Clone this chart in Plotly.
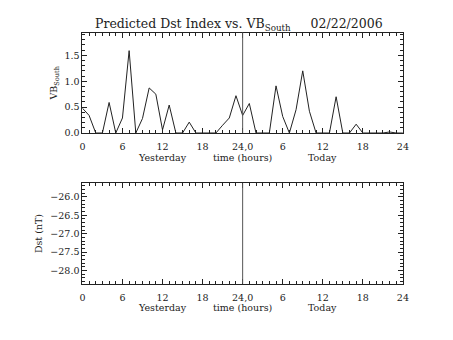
import plotly.graph_objects as go

# Hours since start of yesterday (0..48)
hours = list(range(49))
vb_south = [0.48, 0.34, 0.0, 0.0, 0.59, 0.0, 0.29, 1.59, 0.0, 0.28,
            0.87, 0.75, 0.06, 0.54, 0.0, 0.0, 0.21, 0.0, 0.0, 0.0,
            0.0, 0.15, 0.29, 0.72, 0.34, 0.57, 0.0, 0.0, 0.0, 0.91,
            0.32, 0.0, 0.45, 1.20, 0.42, 0.0, 0.0, 0.0, 0.70, 0.0,
            0.0, 0.17, 0.0, 0.0, 0.0, 0.0, 0.02, 0.0, 0.0]
dst_hours = []
dst_values = []

x_tickvals = [0, 6, 12, 18, 24, 30, 36, 42, 48]
x_ticktext = ["0", "6", "12", "18", "24,0", "6", "12", "18", "24"]
vb_tickvals = [0.0, 0.5, 1.0, 1.5]
dst_tickvals = [-26.0, -26.5, -27.0, -27.5, -28.0]
day_labels = [(12, "Yesterday"), (24, "time (hours)"), (36, "Today")]

W, H = 453, 340
FONT = "DejaVu Serif"
AX = "#222222"
TXT = dict(family=FONT, size=9.5, color="#222")

def px_x(a, b):
    return [a / W, b / W]

def px_y(top, bottom):
    return [(H - bottom) / H, (H - top) / H]

fig = go.Figure()
fig.add_trace(go.Scatter(x=hours, y=vb_south, mode="lines",
                         line=dict(color="#222222", width=1),
                         xaxis="x", yaxis="y", showlegend=False))
fig.add_trace(go.Scatter(x=dst_hours, y=dst_values, mode="lines",
                         line=dict(color="#222222", width=1),
                         xaxis="x2", yaxis="y2", showlegend=False))

common_x = dict(range=[0, 48], tickmode="array", tickvals=x_tickvals,
                ticktext=x_ticktext, ticks="inside", ticklen=5,
                tickcolor=AX, showline=True, linecolor=AX, linewidth=1,
                mirror="allticks", showgrid=False, zeroline=False,
                ticklabelstandoff=5,
                minor=dict(dtick=1, tick0=0, ticks="inside", ticklen=3,
                           tickcolor=AX, showgrid=False),
                tickfont=TXT)
common_y = dict(ticks="inside", ticklen=5, tickcolor=AX, showline=True,
                linecolor=AX, linewidth=1, mirror="allticks",
                showgrid=False, zeroline=False, tickfont=TXT)

fig.update_layout(
    width=W, height=H,
    margin=dict(l=0, r=0, t=0, b=0),
    paper_bgcolor="white", plot_bgcolor="white",
    xaxis=dict(domain=px_x(81, 408), anchor="y", **common_x),
    yaxis=dict(domain=px_y(33, 135), anchor="x", range=[0, 1.94],
               tickmode="array", tickvals=vb_tickvals,
               ticktext=[f"{v:.1f}" for v in vb_tickvals],
               minor=dict(dtick=0.1, tick0=0, ticks="inside", ticklen=3,
                          tickcolor=AX, showgrid=False),
               title=dict(text="VB<sub>South</sub>", font=TXT, standoff=5),
               **common_y),
    xaxis2=dict(domain=px_x(81, 408), anchor="y2", **common_x),
    yaxis2=dict(domain=px_y(186, 288), anchor="x2", range=[-28.36, -25.63],
                tickmode="array", tickvals=dst_tickvals,
                ticktext=[f"{v:.1f}".replace("-", "\u2212") for v in dst_tickvals],
                minor=dict(dtick=0.1, tick0=-28.0, ticks="inside", ticklen=3,
                           tickcolor=AX, showgrid=False),
                title=dict(text="Dst (nT)", font=TXT, standoff=6),
                **common_y),
)

# Midnight divider on both panels
for xr, yr in (("x", "y domain"), ("x2", "y2 domain")):
    fig.add_shape(type="line", xref=xr, yref=yr, x0=24, x1=24, y0=0, y1=1,
                  line=dict(color="#555555", width=1))

# Day labels under each time axis
for xr, yr in (("x", "y domain"), ("x2", "y2 domain")):
    for xv, txt in day_labels:
        fig.add_annotation(x=xv, y=0, xref=xr, yref=yr, text=txt,
                           showarrow=False, yshift=-24, yanchor="middle",
                           font=TXT)

fig.add_annotation(
    x=241 / W, y=(H - 36) / H, xref="paper", yref="paper",
    xanchor="center", yanchor="bottom",
    text="Predicted Dst Index vs. VB<sub>South</sub>\u00a0\u00a0\u00a0\u00a0\u00a002/22/2006",
    showarrow=False, font=dict(family=FONT, size=12.5, color="#222"))

fig.write_html("out.html")
